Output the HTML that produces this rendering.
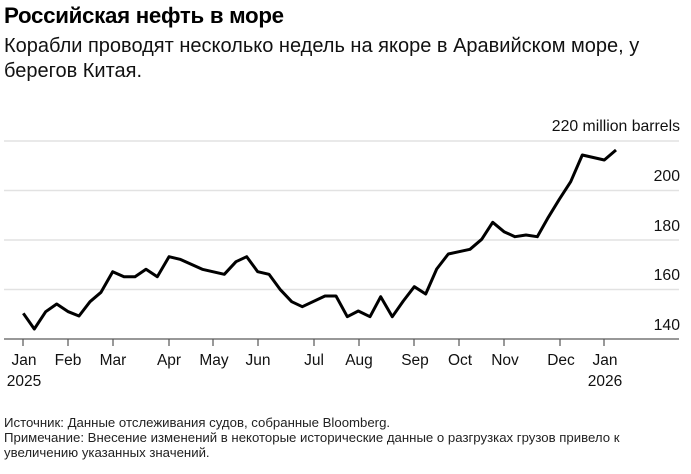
<!DOCTYPE html>
<html><head><meta charset="utf-8"><style>
body{margin:0;width:691px;height:474px;background:#fff;font-family:"Liberation Sans",sans-serif;color:#000;overflow:hidden}
.t{position:absolute;left:4px;top:3px;font-size:22.3px;font-weight:bold;letter-spacing:-0.3px}
.s{position:absolute;left:4px;top:34px;font-size:20px;line-height:25px;width:650px;color:#111}
.n{position:absolute;left:4px;top:415px;font-size:13.2px;line-height:15px;color:#222;width:640px}
</style></head><body>
<div class="t">Российская нефть в море</div>
<div class="s">Корабли проводят несколько недель на якоре в Аравийском море, у берегов Китая.</div>
<svg width="691" height="474" style="position:absolute;left:0;top:0">
<g stroke="#e2e2e2" stroke-width="1.5">
<line x1="4" x2="679" y1="141" y2="141"/><line x1="4" x2="679" y1="190.5" y2="190.5"/>
<line x1="4" x2="679" y1="240" y2="240"/><line x1="4" x2="679" y1="289.5" y2="289.5"/></g>
<line x1="4" x2="679" y1="339" y2="339" stroke="#777" stroke-width="1.5"/>
<g stroke="#555" stroke-width="1.2">
<line x1="23" x2="23" y1="339" y2="346"/><line x1="68" x2="68" y1="339" y2="346"/><line x1="113" x2="113" y1="339" y2="346"/><line x1="169" x2="169" y1="339" y2="346"/><line x1="213" x2="213" y1="339" y2="346"/><line x1="258" x2="258" y1="339" y2="346"/><line x1="314" x2="314" y1="339" y2="346"/><line x1="359" x2="359" y1="339" y2="346"/><line x1="414" x2="414" y1="339" y2="346"/><line x1="459" x2="459" y1="339" y2="346"/><line x1="504" x2="504" y1="339" y2="346"/><line x1="560" x2="560" y1="339" y2="346"/><line x1="604" x2="604" y1="339" y2="346"/></g>
<g font-size="15.5" text-anchor="middle" fill="#111">
<text x="24" y="365">Jan</text><text x="24" y="386">2025</text><text x="68" y="365">Feb</text><text x="113" y="365">Mar</text><text x="169" y="365">Apr</text><text x="214" y="365">May</text><text x="258" y="365">Jun</text><text x="314" y="365">Jul</text><text x="359" y="365">Aug</text><text x="415" y="365">Sep</text><text x="460" y="365">Oct</text><text x="505" y="365">Nov</text><text x="561" y="365">Dec</text><text x="605" y="365">Jan</text><text x="605" y="386">2026</text></g>
<g font-size="15.8" text-anchor="end" fill="#111">
<text x="680" y="131">220 million barrels</text><text x="680" y="181">200</text><text x="680" y="231">180</text><text x="680" y="280">160</text><text x="680" y="330">140</text></g>
<polyline fill="none" stroke="#000" stroke-width="3" stroke-linejoin="round" points="23.3,313.3 34.3,329 45.7,311.7 56.7,304 68.3,311.7 79,316 90,301.7 101,292.3 112.7,271.7 124,276.7 135,276.7 146,269.3 157.3,276.7 169,256.7 180,259.3 202.3,269.3 224.3,274.3 236,261.7 246.7,256.7 257.7,271.7 269,274.3 280,289.3 291.7,301.7 302.3,306.7 325,296 336,296 347.3,316.7 358.3,311 370,316.7 380.7,296.7 392.3,316.7 403.3,301 414.3,286.7 425.7,294 436.7,269 448.3,254 459,251.7 470,249.3 481.7,239.3 492.7,222.3 504,231.7 515,236.7 526,235 537.3,236.7 548.3,217.3 559.3,199.3 570.7,181.7 582.3,155 604.3,160 616,150"/>
</svg>
<div class="n">Источник: Данные отслеживания судов, собранные Bloomberg.<br>Примечание: Внесение изменений в некоторые исторические данные о разгрузках грузов привело к увеличению указанных значений.</div>
</body></html>
